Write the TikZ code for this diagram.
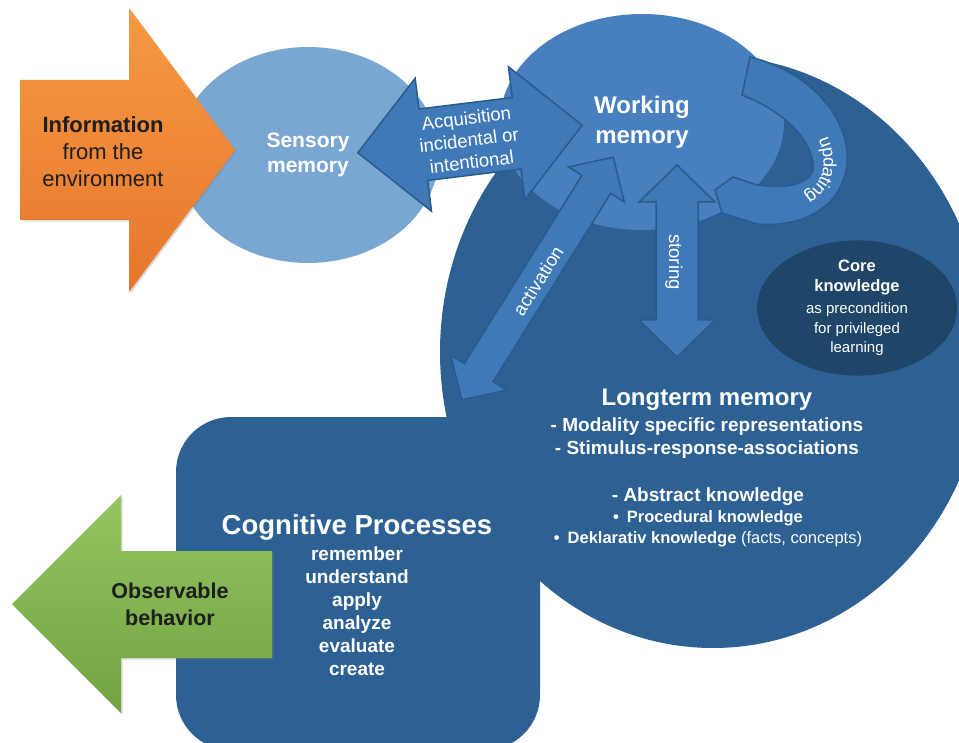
\documentclass[tikz,border=0pt]{standalone}
\usepackage{fontspec}
\setmainfont{Liberation Sans}
\usepackage{tikz}
\usetikzlibrary{shapes, decorations.text, shadows}

\definecolor{ltmblue}{HTML}{2D6093}
\definecolor{wmblue}{HTML}{487FBF}
\definecolor{smblue}{HTML}{7AA6D2}
\definecolor{arrblue}{HTML}{4079B8}
\definecolor{arredge}{HTML}{2B5B8C}
\definecolor{coreblue}{HTML}{1F4569}
\definecolor{infotop}{HTML}{F79A42}
\definecolor{infobot}{HTML}{E6762D}
\definecolor{obstop}{HTML}{95C460}
\definecolor{obsbot}{HTML}{72A342}
\definecolor{darktext}{HTML}{1E1E1E}

\begin{document}
\begin{tikzpicture}[x=1pt, y=-1pt,
	every node/.style={align=center, inner sep=0pt, text=white},
	memory/.style={ellipse, inner sep=0pt},
	blockarrow/.style={fill=arrblue, draw=arredge, line width=1.5pt, line join=miter},
	bigarrow/.style={drop shadow={shadow xshift=1.5pt, shadow yshift=-1.5pt, opacity=0.3}},
	arrowtext/.style={font=\fontsize{18.5}{22}\selectfont}]
	\useasboundingbox (0,0) rectangle (959,743);
	\clip (0,0) rectangle (959,743);

	\node[memory, fill=ltmblue, minimum width=546pt, minimum height=592pt] (ltm) at (713,352) {};
	\node[rectangle, fill=ltmblue, rounded corners=55pt, minimum width=364pt, minimum height=333pt] (cog) at (358,583.5) {};
	\node[memory, fill=smblue, minimum width=262pt, minimum height=216pt, font=\bfseries\fontsize{21}{25}\selectfont] (sensory) at (308,155) {Sensory\\memory};
	\node[memory, fill=wmblue, minimum width=284pt, minimum height=216pt, font=\bfseries\fontsize{24}{30}\selectfont] (wm) at (642,122) {Working\\memory};
	\node[memory, fill=coreblue, minimum width=200pt, minimum height=126pt, font=\fontsize{15}{19.5}\selectfont] (core) at (857,308)
		{{\bfseries\fontsize{16.5}{19.5}\selectfont Core}\\{\bfseries\fontsize{16.5}{19.5}\selectfont knowledge}\\[3pt]as precondition\\for privileged\\learning};

	\draw[blockarrow] (750,57) .. controls (812,72) and (850,120) .. (847,162) .. controls (844,205) and (805,228) .. (757,224) -- (722,213) -- (715,190) -- (733,177) -- (757,185) .. controls (792,190) and (816,182) .. (813,163) .. controls (809,135) and (780,110) .. (742,95) -- cycle;
	\path[decorate, decoration={text along path, text align=center, raise=-4.5pt, text={|\fontsize{18}{20}\selectfont\color{white}|updating}}] (795,105) .. controls (842,140) and (845,205) .. (765,210);

	\foreach \name/\cx/\cy/\ang/\hl/\tl/\hw/\sw in {acq/470/139/7/113/66/67/36, act/537.5/278.5/58/143/32/33/17, sto/677/261/90/96/37/38/21}
	{
		\coordinate (\name) at (\cx,\cy);
		\draw[blockarrow, shift={(\cx,\cy)}, rotate=\ang] (-\hl,0) -- (-\hl+\tl,-\hw) -- (-\hl+\tl,-\sw) -- (\hl-\tl,-\sw) -- (\hl-\tl,-\hw) -- (\hl,0) -- (\hl-\tl,\hw) -- (\hl-\tl,\sw) -- (-\hl+\tl,\sw) -- (-\hl+\tl,\hw) -- cycle;
	}
	\node[arrowtext, rotate=7] (acqtext) at (469,140) {Acquisition\\incidental or\\intentional};
	\node[arrowtext, rotate=58] (acttext) at (538,281) {activation};
	\node[arrowtext, rotate=-90] (stotext) at (674,262) {storing};

	\path[bigarrow, top color=infotop, bottom color=infobot] (20,80) -- (129,80) -- (129,8) -- (235,150) -- (129,292) -- (129,220) -- (20,220) -- cycle;
	\node[text=darktext, font=\fontsize{22}{27}\selectfont] (info) at (103,152) {\textbf{Information}\\from the\\environment};

	\path[bigarrow, top color=obstop, bottom color=obsbot] (272,551) -- (121,551) -- (121,495) -- (12,604) -- (121,713) -- (121,658) -- (272,658) -- cycle;
	\node[text=darktext, font=\bfseries\fontsize{21.5}{27}\selectfont] (obs) at (170,604) {Observable\\behavior};

	\node[font=\bfseries\fontsize{24}{28}\selectfont] (ltmtitle) at (707,400) {Longterm memory};
	\node[font=\bfseries\fontsize{19}{23}\selectfont] (ltmrep) at (707,438) {- Modality specific representations\\- Stimulus-response-associations};
	\node[font=\fontsize{16.5}{21}\selectfont] (ltmabs) at (708,517)
		{{\bfseries\fontsize{19}{21}\selectfont - Abstract knowledge}\\\textbf{\textbullet\hspace{8pt}Procedural knowledge}\\\textbf{\textbullet\hspace{8pt}Deklarativ knowledge} (facts, concepts)};

	\node[font=\bfseries\fontsize{27.5}{30}\selectfont] (cogtitle) at (357,527) {Cognitive Processes};
	\node[font=\bfseries\fontsize{19}{23}\selectfont] (coglist) at (357,611) {remember\\understand\\apply\\analyze\\evaluate\\create};
\end{tikzpicture}
\end{document}
